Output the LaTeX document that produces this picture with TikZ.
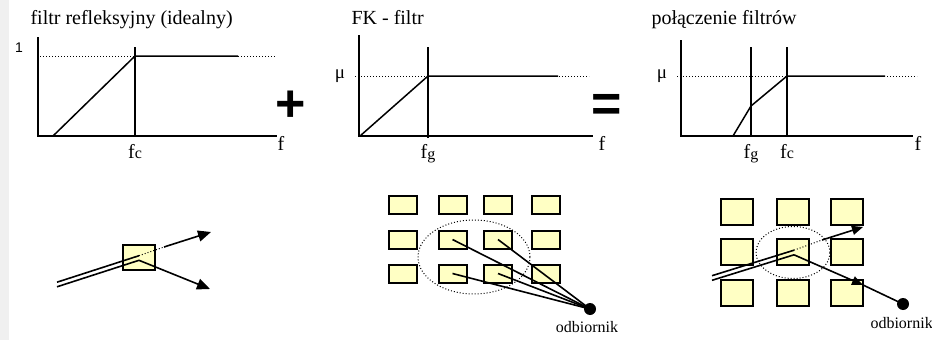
\documentclass[tikz,border=0pt]{standalone}
\usepackage{fontspec}
\setmainfont{Liberation Serif}
\setsansfont{Liberation Sans}
\usepackage{tikz}
\usetikzlibrary{positioning,arrows.meta,shapes.geometric}
\definecolor{cellyellow}{RGB}{255,255,196}
\definecolor{stripgray}{RGB}{240,240,240}

\begin{document}
\begin{tikzpicture}[
  x=1pt, y=-1pt,
  axis/.style={line width=1.9pt},
  curve/.style={line width=1.5pt},
  level/.style={dotted, line width=1pt},
  title/.style={anchor=base west, font=\fontsize{20}{20}\selectfont},
  lbl/.style={anchor=base, font=\fontsize{20}{20}\selectfont},
  op/.style={font=\sffamily\bfseries\fontsize{52}{52}\selectfont},
  cell/.style={draw, line width=2pt, fill=cellyellow, inner sep=0pt},
  ring/.style={draw, ellipse, dotted, line width=1pt, inner sep=0pt},
  rx/.style={circle, fill, minimum size=12pt, inner sep=0pt},
  ray/.style={-{Triangle[length=13pt,width=11pt]}, line width=1.6pt},
  wire/.style={line width=1.6pt}
]
\useasboundingbox (0,0) rectangle (932,340);
\fill[stripgray] (0,0) rectangle (9,340);

\node[title] (t1) at (27,24) {filtr refleksyjny (idealny)};
\draw[level] (40,56) -- (275,56);
\draw[axis] (38,37) -- (38,136) -- (277,136);
\draw[curve] (135,47) -- (135,137);
\draw[curve] (53,136) -- (135,56) -- (238,56);
\node[font=\sffamily\fontsize{14}{14}\selectfont] (one) at (19,48) {1};
\node[lbl] (f1) at (281,150) {f};
\node[lbl] (fc1) at (135,158) {f{\fontsize{16}{16}\selectfont c}};

\node[op] (plus) at (291,106) {+};

\node[title] (t2) at (348,24) {FK - filtr};
\draw[level] (355,76) -- (589,76);
\draw[axis] (359,35) -- (359,136) -- (593,136);
\draw[curve] (428,47) -- (428,138);
\draw[curve] (360,136) -- (428,76) -- (558,76);
\node[font=\fontsize{19}{19}\selectfont] (mu2) at (340,76) {μ};
\node[lbl] (f2) at (602,150) {f};
\node[lbl] (fg2) at (428,158) {f{\fontsize{16}{16}\selectfont\raisebox{-1.5pt}{g}}};

\node[op] (eq) at (607,108) {=};

\node[title] (t3) at (648,24) {połączenie filtrów};
\draw[level] (677,76) -- (917,76);
\draw[axis] (681,40) -- (681,136) -- (913,136);
\draw[curve] (751,47) -- (751,137);
\draw[curve] (787,47) -- (787,137);
\draw[curve] (733,136) -- (751,106) -- (787,76) -- (885,76);
\node[font=\fontsize{19}{19}\selectfont] (mu3) at (662,76) {μ};
\node[lbl] (f3) at (918,150) {f};
\node[lbl] (fg3) at (751,158) {f{\fontsize{16}{16}\selectfont\raisebox{-1.5pt}{g}}};
\node[lbl] (fc3) at (787,158) {f{\fontsize{16}{16}\selectfont c}};

\node[cell, minimum width=32pt, minimum height=25pt] (refl) at (138.5,257) {};
\coordinate (src1) at (57,284.5);
\coordinate (hit1) at (139,258);
\coordinate (esc1) at (164,247);
\coordinate (out1a) at (211,232);
\coordinate (out1b) at (210,289);
\draw[wire] ([yshift=2.3pt]src1) -- ([yshift=2.3pt]hit1);
\draw[wire] ([yshift=-2.3pt]src1) -- ([yshift=-2.3pt]hit1);
\draw[level] ([yshift=2.3pt]hit1) -- (esc1);
\draw[ray] (esc1) -- (out1a);
\draw[ray] ([yshift=-2.3pt]hit1) -- (out1b);

\foreach \c/\x in {1/402.5,2/452.5,3/498,4/546}
  \foreach \r/\y in {1/204.5,2/239.5,3/273.5}
    \node[cell, minimum width=28pt, minimum height=18pt] (m\c\r) at (\x,\y) {};
\node[ring, minimum width=112pt, minimum height=74pt] (zone1) at (474,257) {};
\node[rx] (rx1) at (590,309) {};
\node[below=3pt of rx1, xshift=-3pt, font=\fontsize{16}{16}\selectfont] (lab1) {odbiornik};
\foreach \n in {m22,m32,m23,m33}
  \draw[wire] (\n.center) -- (rx1.center);

\foreach \c/\x in {1/736.5,2/792.5,3/846.5}
  \foreach \r/\y in {1/211.5,2/252,3/293}
    \node[cell, minimum width=32pt, minimum height=26pt] (k\c\r) at (\x,\y) {};
\node[ring, minimum width=74pt, minimum height=52pt] (zone2) at (793,252.5) {};
\node[rx] (rx2) at (903,304) {};
\node[below=4pt of rx2, anchor=north west, xshift=-36pt, font=\fontsize{16}{16}\selectfont] (lab2) {odbiornik};
\coordinate (src2) at (712,278);
\coordinate (hit2) at (794,252.5);
\coordinate (esc2) at (822,240);
\coordinate (out2a) at (863,227);
\coordinate (out2b) at (863,285);
\draw[wire] ([yshift=2.3pt]src2) -- ([yshift=2.3pt]hit2);
\draw[wire] ([yshift=-2.3pt]src2) -- ([yshift=-2.3pt]hit2);
\draw[level] ([yshift=2.3pt]hit2) -- (esc2);
\draw[ray, -{Triangle[length=11pt,width=9pt]}] (esc2) -- (out2a);
\draw[ray, -{Triangle[length=11pt,width=9pt]}] ([yshift=-2.3pt]hit2) -- (out2b);
\draw[wire] (out2b) -- (rx2.center);
\end{tikzpicture}
\end{document}
